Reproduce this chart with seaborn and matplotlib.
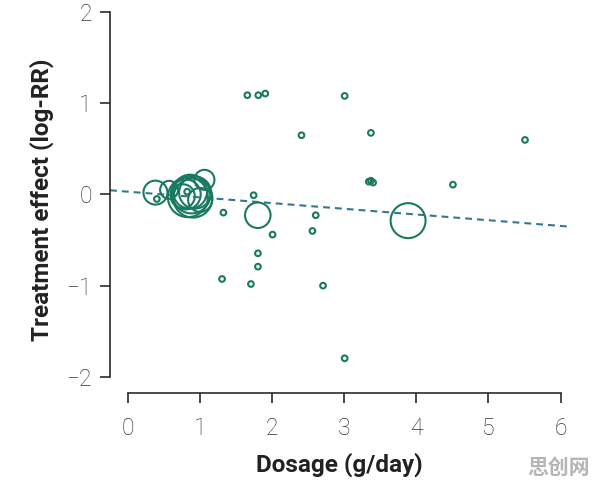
import numpy as np
import pandas as pd
import matplotlib
matplotlib.use("Agg")
import matplotlib.pyplot as plt
import seaborn as sns

# ---- data ----
dosage = [1.655, 1.807, 1.904, 3.005, 2.406, 3.369, 5.507, 3.34, 3.37, 3.40,
          4.507, 1.742, 1.323, 2.604, 2.005, 2.558, 1.802, 1.802, 1.304, 1.705,
          2.705, 3.005, 0.40, 0.82,
          1.80, 3.885,
          0.38, 0.57, 0.83, 0.88, 0.90, 0.86, 0.93, 0.80, 1.00, 1.06, 0.76]
effect = [1.087, 1.087, 1.105, 1.079, 0.648, 0.674, 0.597, 0.14, 0.15, 0.13,
          0.107, -0.009, -0.199, -0.228, -0.44, -0.40, -0.645, -0.791, -0.926, -0.981,
          -0.999, -1.795, -0.05, 0.03,
          -0.228, -0.287,
          0.02, 0.05, -0.03, 0.00, -0.04, 0.03, 0.02, 0.00, -0.06, 0.16, -0.02]
weight = [8, 8, 8, 8, 8, 8, 8, 8, 8, 8,
          8, 8, 8, 8, 8, 8, 8, 8, 8, 8,
          8, 8, 8, 8,
          163, 306,
          144, 81, 400, 361, 380, 289, 256, 225, 144, 100, 144]

intercept = 0.03
slope = -0.0625

x_ticks = [0, 1, 2, 3, 4, 5, 6]
y_ticks = [-2, -1, 0, 1, 2]

df = pd.DataFrame({"dosage": dosage, "effect": effect, "weight": weight})

circle_color = "#1a7a5f"
line_color = "#35778f"
ink = "#2b2b2b"

sns.set_theme(style="white")
plt.rcParams["font.family"] = ["Roboto", "DejaVu Sans"]

fig = plt.figure(figsize=(5.96, 4.84), dpi=100)
ax = fig.add_axes([0.1846, 0.188, 0.768, 0.797])

xmin, xmax = -0.25, 6.1
ymin, ymax = -2.175, 2.05

xl = np.array([xmin, xmax])
sns.lineplot(x=xl, y=intercept + slope * xl, ax=ax, color=line_color,
             linewidth=1.5, linestyle=(0, (3.3, 2.4)), zorder=1)

wmax = max(weight)
sns.scatterplot(data=df, x="dosage", y="effect", size="weight",
                sizes=(0, 2.07 * wmax), size_norm=(0, wmax), legend=False,
                facecolor="none", edgecolor=circle_color, linewidth=1.5,
                ax=ax, zorder=2)

ax.set_xlim(xmin, xmax)
ax.set_ylim(ymin, ymax)
ax.set_xticks(x_ticks)
ax.set_yticks(y_ticks)
ax.set_xticklabels([str(t) for t in x_ticks])
ax.set_yticklabels([str(t).replace("-", "\u2212") for t in y_ticks])

for s in ["top", "right"]:
    ax.spines[s].set_visible(False)
ax.spines["left"].set_bounds(-2, 2)
ax.spines["bottom"].set_bounds(0, 6)
for s in ["left", "bottom"]:
    ax.spines[s].set_color(ink)
    ax.spines[s].set_linewidth(1.2)

ax.tick_params(axis="both", which="major", length=7, width=1.2, color=ink,
               labelsize=16.5, labelcolor="#333333", bottom=True, left=True)
ax.tick_params(axis="x", pad=10)
ax.tick_params(axis="y", pad=6)
for lab in ax.get_xticklabels() + ax.get_yticklabels():
    lab.set_fontweight("light")

ax.set_xlabel("Dosage (g/day)", fontsize=17.5, fontweight="bold", color="#222222",
              labelpad=9)
ax.set_ylabel("Treatment effect (log-RR)", fontsize=17.5, fontweight="bold",
              color="#222222", labelpad=9)

fig.text(0.99, 0.035, "思创网", fontsize=15, fontweight="bold", color="#b5b5b5",
         ha="right", va="center", family=["Noto Sans CJK SC", "DejaVu Sans"])

fig.savefig("out.png", dpi=100)
